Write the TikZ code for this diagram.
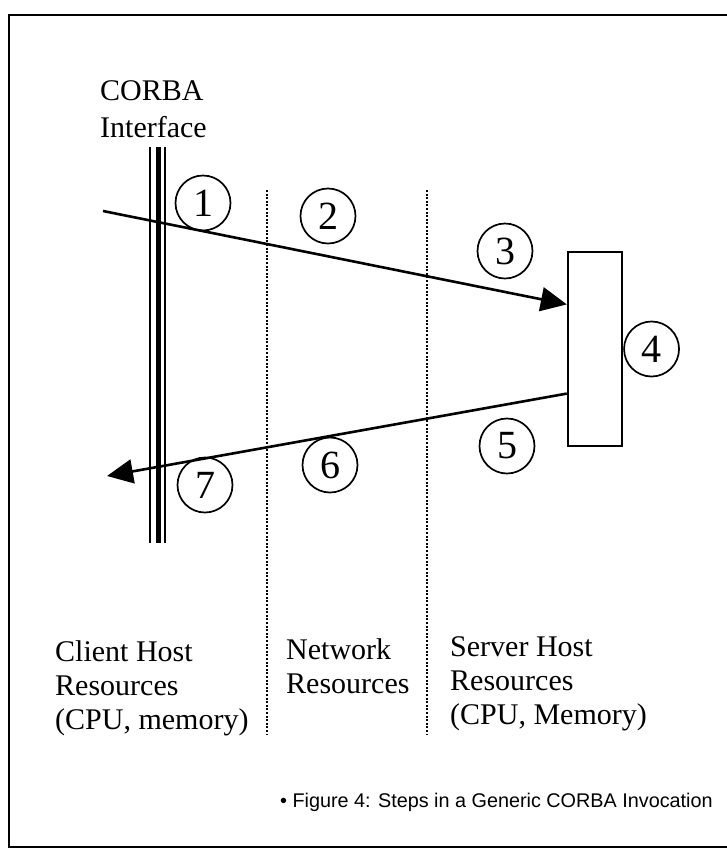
\documentclass[tikz,border=0pt]{standalone}
\usepackage{fontspec}
\setmainfont{Liberation Serif}
\newfontfamily\capfont{Liberation Sans}
\usetikzlibrary{positioning, arrows.meta, calc}

\begin{document}
\begin{tikzpicture}[
        x=1pt, y=-1pt,
        stepnum/.style={draw, circle, line width=1.7pt, minimum size=55pt, inner sep=0pt, font=\fontsize{40}{40}\selectfont},
        serverbox/.style={draw, rectangle, line width=2.4pt, minimum width=54pt, minimum height=194pt},
        callarrow/.style={-{Triangle[length=26pt, width=24pt]}, line width=2.6pt},
        divider/.style={line width=2.8pt, dash pattern=on 2pt off 1.6pt},
        hostlabel/.style={anchor=north west, align=left, inner sep=0pt, font=\fontsize{30}{34}\selectfont}
    ]

    \useasboundingbox (0,0) rectangle (727,855);

    % Define the frame (open on the right)
    \draw[line width=2.2pt] (727,15) -- (9,15) -- (9,847) -- (727,847);

    % CORBA interface
    \node[hostlabel, font=\fontsize{30}{37}\selectfont] (iface) at (100,80) {CORBA\\Interface};
    \draw[line width=2pt] (150,147) -- (150,543);
    \draw[line width=5pt] (158,147) -- (158,543);
    \draw[line width=2pt] (165,147) -- (165,543);

    % Resource boundaries
    \foreach \x in {267,427}
        \draw[divider] (\x,190) -- (\x,735);

    % Define the server object and the steps
    \node[serverbox] (server) at (595,349) {};
    \node[stepnum] (s1) at (203,203) {1};
    \node[stepnum] (s2) at (328,216) {2};
    \node[stepnum] (s3) at (505,251) {3};
    \node[stepnum, right=0pt of server] (s4) {4};
    \node[stepnum] (s5) at (507,446) {5};
    \node[stepnum] (s6) at (330,465) {6};
    \node[stepnum] (s7) at (205,485) {7};

    % Draw the request and the reply
    \coordinate (caller) at (103,211);
    \coordinate (client) at (107,476);
    \draw[callarrow] (caller) -- ($(server.north west)!0.273!(server.south west)$);
    \draw[callarrow] ($(server.north west)!0.727!(server.south west)$) -- (client);

    % Resource labels
    \node[hostlabel] (clientres) at (55,640) {Client Host\\Resources\\(CPU, memory)};
    \node[hostlabel] (netres) at (286,638) {Network\\Resources};
    \node[hostlabel] (serverres) at (450,636) {Server Host\\Resources\\(CPU, Memory)};

    \node[anchor=base west, inner sep=0pt, font=\capfont\fontsize{19.8}{20}\selectfont] (caption) at (280,807) {\textbullet\ Figure 4: Steps in a Generic CORBA Invocation};

\end{tikzpicture}
\end{document}
